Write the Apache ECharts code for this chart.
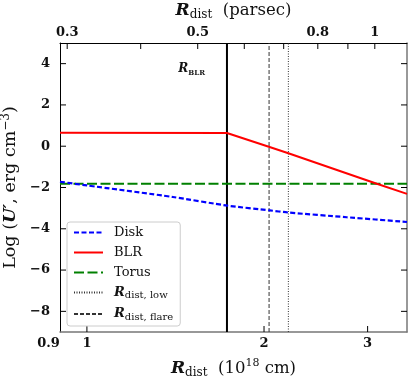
<!DOCTYPE html>
<html><head><meta charset="utf-8">
<script src="https://cdn.jsdelivr.net/npm/echarts@6/dist/echarts.min.js"></script>
<style>html,body{margin:0;padding:0;background:#fff}#c{width:415px;height:383px}</style>
</head><body><div id="c"></div>
<script>
// ---- data ----
const PC_IN_1E18CM = 3.0857;           // 1 parsec in units of 1e18 cm
const xMin = 0.9, xMax = 3.5;
const yMin = -9, yMax = 5;
const bottomTickValues = [1, 2, 3];
const bottomLabelValues = [0.9, 1, 2, 3];
const topTickValues = [0.3, 0.4, 0.5, 0.6, 0.7, 0.8, 0.9, 1];
const topLabelValues = [0.3, 0.5, 0.8, 1];
const yTickValues = [-8, -6, -4, -2, 0, 2, 4];

const diskX = [0.9, 1.0, 1.4, 1.735, 2.046, 2.195, 2.764, 3.5];
const diskY = [-1.72, -1.90, -2.46, -2.88, -3.11, -3.21, -3.44, -3.67];
const blrX = [0.9, 1.73, 2.05, 2.2, 3.11, 3.5];
const blrY = [0.65, 0.64, -0.05, -0.34, -1.82, -2.31];
const torusX = [0.9, 3.5];
const torusY = [-1.82, -1.82];
const rBLR = 1.73, rLow = 2.2, rFlare = 2.04;
const rBLRLabelY = 3.75;

// ---- layout / style ----
const GRID = { left: 60, right: 8, top: 43, bottom: 51 };
const W = 415, H = 383;
const TICK_PX = 6;
const SERIF = '"DejaVu Serif", serif';
const zip = (a, b) => a.map((v, i) => [v, b[i]]);
const minus = v => (v < 0 ? '\u2212' + Math.abs(v) : String(v));

const tickLabelStyle = { fontFamily: SERIF, fontWeight: 'bold', fontSize: 13, color: '#111' };
const titleRich = {
  R: { fontFamily: SERIF, fontWeight: 'bold', fontStyle: 'italic', fontSize: 17, lineHeight: 21, color: '#111' },
  U: { fontFamily: SERIF, fontWeight: 'bold', fontStyle: 'italic', fontSize: 17, lineHeight: 21, color: '#111' },
  sub: { fontFamily: SERIF, fontSize: 12, lineHeight: 12, verticalAlign: 'bottom', color: '#111' },
  sup: { fontFamily: SERIF, fontSize: 11, lineHeight: 11, verticalAlign: 'top', color: '#111' },
  t: { fontFamily: SERIF, fontSize: 16.5, lineHeight: 21, color: '#111' }
};
const yTitleRich = Object.assign({}, titleRich, {
  t: { fontFamily: SERIF, fontSize: 17.5, lineHeight: 21, color: '#111' },
  sup: { fontFamily: SERIF, fontSize: 12, lineHeight: 12, verticalAlign: 'top', color: '#111' }
});

// inward tick marks as short line segments through the axes' own scales
const plotW = W - GRID.left - GRID.right, plotH = H - GRID.top - GRID.bottom;
const kx = Math.pow(10, TICK_PX / plotW * Math.log10(xMax / xMin)); // tick length as a log-x factor
const dy = TICK_PX / plotH * (yMax - yMin);                         // tick length in y units
const tickSeries = [];
let tickN = 0;
const addTick = (xi, pts) => tickSeries.push({
  name: 'tick' + (tickN++), type: 'line', xAxisIndex: xi, yAxisIndex: 0, data: pts,
  symbol: 'none', showSymbol: false, clip: false, color: '#000',
  lineStyle: { color: '#000', width: 1 }
});
yTickValues.forEach(v => {
  addTick(0, [[xMin, v], [xMin * kx, v]]);
  addTick(0, [[xMax / kx, v], [xMax, v]]);
});
bottomTickValues.forEach(v => addTick(0, [[v, yMin], [v, yMin + dy]]));
topTickValues.forEach(v => addTick(1, [[v, yMax], [v, yMax - dy]]));

const chart = echarts.init(document.getElementById('c'), null, { renderer: 'canvas' });
chart.setOption({
  animation: false,
  backgroundColor: '#fff',
  grid: Object.assign({ containLabel: false, outerBoundsMode: 'none' }, GRID),
  xAxis: [
    {
      type: 'log', logBase: 10, position: 'bottom', min: xMin, max: xMax,
      axisLine: { show: true, onZero: false, lineStyle: { color: '#777', width: 1.5 } },
      axisTick: { show: false },
      minorTick: { show: false },
      splitLine: { show: false },
      axisLabel: Object.assign({
        customValues: bottomLabelValues, margin: 5,
        formatter: v => (Math.abs(v - 0.9) < 1e-6 ? '{l|0.9}' : '{n|' + Math.round(v) + '}'),
        rich: {
          l: Object.assign({ padding: [0, 23, 0, 0] }, tickLabelStyle),
          n: Object.assign({}, tickLabelStyle)
        }
      }, tickLabelStyle),
      name: '{R|R}{sub|dist}{t|  (10}{sup|18}{t| cm)}',
      nameLocation: 'middle', nameGap: 26,
      nameTextStyle: { rich: titleRich }
    },
    {
      type: 'log', logBase: 10, position: 'top',
      min: xMin / PC_IN_1E18CM, max: xMax / PC_IN_1E18CM,
      axisLine: { show: true, onZero: false, lineStyle: { color: '#000', width: 1 } },
      axisTick: { show: false },
      minorTick: { show: false },
      splitLine: { show: false },
      axisLabel: Object.assign({
        customValues: topLabelValues, margin: 4,
        formatter: v => String(Math.round(v * 10) / 10)
      }, tickLabelStyle),
      name: '{R|R}{sub|dist}{t|  (parsec)}',
      nameLocation: 'middle', nameGap: 18,
      nameTextStyle: { rich: titleRich }
    }
  ],
  yAxis: [
    {
      type: 'value', position: 'left', min: yMin, max: yMax,
      axisLine: { show: true, onZero: false, lineStyle: { color: '#000', width: 1 } },
      axisTick: { show: false },
      splitLine: { show: false },
      axisLabel: Object.assign({ customValues: yTickValues, margin: 10, formatter: minus }, tickLabelStyle),
      name: '{t|Log (}{U|U\u2032}{t|, erg cm}{sup|\u22123}{t|)}',
      nameLocation: 'middle', nameGap: 35, nameRotate: 90,
      nameTextStyle: { rich: yTitleRich }
    },
    {
      type: 'value', position: 'right', min: yMin, max: yMax,
      axisLine: { show: true, onZero: false, lineStyle: { color: '#777', width: 1.5 } },
      axisTick: { show: false },
      splitLine: { show: false },
      axisLabel: { show: false }
    }
  ],
  legend: {
    orient: 'vertical', left: 67, top: 222,
    padding: [4, 7, 4, 6], itemWidth: 29, itemHeight: 16, itemGap: 7,
    borderColor: '#ccc', borderWidth: 1, borderRadius: 3, backgroundColor: '#fff',
    itemStyle: { opacity: 0 },
    data: ['Disk', 'BLR', 'Torus', 'low', 'flare'],
    formatter: name => {
      if (name === 'low') return '{g|}{R|R}{s|dist, low}';
      if (name === 'flare') return '{g|}{R|R}{s|dist, flare}';
      return '{g|}{t|' + name + '}';
    },
    textStyle: {
      fontFamily: SERIF, fontSize: 13, color: '#111',
      rich: {
        g: { width: 6 },
        t: { fontFamily: SERIF, fontSize: 13, lineHeight: 16, color: '#111' },
        R: { fontFamily: SERIF, fontSize: 13, fontWeight: 'bold', fontStyle: 'italic', lineHeight: 16, color: '#111' },
        s: { fontFamily: SERIF, fontSize: 10, lineHeight: 10, verticalAlign: 'bottom', color: '#111' }
      }
    }
  },
  series: tickSeries.concat([
    {
      name: 'BLRline', type: 'line', data: [[rBLR, yMin], [rBLR, yMax]],
      symbol: 'none', color: '#000', lineStyle: { color: '#000', width: 2 }, z: 3,
      markPoint: {
        symbol: 'circle', symbolSize: 0,
        data: [{ coord: [rBLR, rBLRLabelY] }],
        label: {
          show: true, position: 'left', distance: 22,
          formatter: '{R|R}{s|BLR}',
          rich: {
            R: { fontFamily: SERIF, fontSize: 12, fontWeight: 'bold', fontStyle: 'italic', lineHeight: 15, color: '#111' },
            s: { fontFamily: SERIF, fontSize: 7, fontWeight: 'bold', lineHeight: 8, verticalAlign: 'bottom', color: '#111' }
          }
        }
      }
    },
    {
      name: 'flare', type: 'line', data: [[rFlare, yMin], [rFlare, yMax]],
      symbol: 'none', color: '#333', lineStyle: { color: '#333', width: 1, type: [4, 2] }, z: 3
    },
    {
      name: 'low', type: 'line', data: [[rLow, yMin], [rLow, yMax]],
      symbol: 'none', color: '#333', lineStyle: { color: '#333', width: 1, type: [1, 1.5] }, z: 3
    },
    {
      name: 'Torus', type: 'line', data: zip(torusX, torusY),
      symbol: 'none', color: '#008000', lineStyle: { color: '#008000', width: 2, type: [10, 3.5] }, z: 4
    },
    {
      name: 'BLR', type: 'line', data: zip(blrX, blrY),
      symbol: 'none', color: '#ff0000', lineStyle: { color: '#ff0000', width: 2 }, z: 5
    },
    {
      name: 'Disk', type: 'line', data: zip(diskX, diskY), smooth: 0.2,
      symbol: 'none', color: '#0000ff', lineStyle: { color: '#0000ff', width: 2.2, type: [5, 2.5] }, z: 6
    }
  ])
});
</script>
</body></html>
